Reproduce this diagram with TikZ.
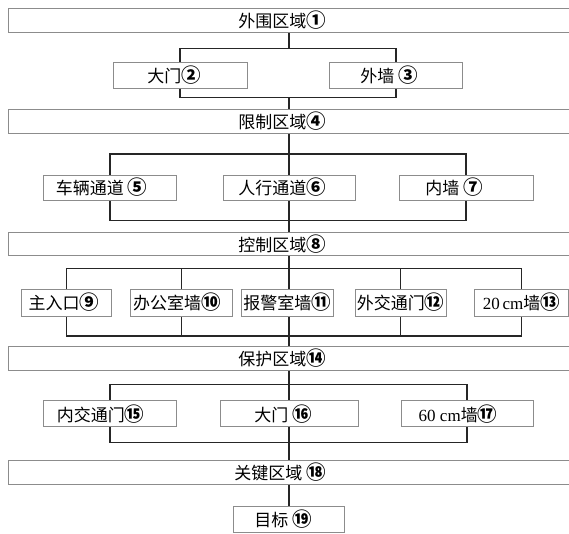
\documentclass[tikz,border=0pt]{standalone}
\usepackage{fontspec}
\setmainfont{Liberation Serif}
\newfontfamily\cjk{Noto Sans CJK SC}
\newcommand{\cnum}[1]{{\fontsize{19.5}{17}\selectfont\bfseries #1}}
\usetikzlibrary{backgrounds}
\begin{document}
\begin{tikzpicture}[x=1pt,y=-1pt,
 box/.style={draw=black!45, line width=0.9pt, fill=white, inner sep=0pt,
   font=\cjk\fontsize{17}{17}\selectfont, text=black},
 wide/.style={box, minimum width=567pt, minimum height=24pt},
 item/.style={box, minimum height=26pt},
 link/.style={draw=black!85, line width=1.2pt}]
\useasboundingbox (0,0) rectangle (569,534);
\clip (0,0) rectangle (569,534);
% wide zone boxes
\node[wide] (n1) at (291.5,20) {外围区域\cnum{①}\hspace*{19pt}};
\node[wide] (n4) at (291.5,121) {限制区域\cnum{④}\hspace*{19pt}};
\node[wide, minimum height=23pt] (n8) at (291.5,244) {控制区域\cnum{⑧}\hspace*{19pt}};
\node[wide] (n14) at (291.5,358) {保护区域\cnum{⑭}\hspace*{19pt}};
\node[wide] (n18) at (291.5,472) {关键区域 \cnum{⑱}\hspace*{23pt}};
% row 1
\node[item, minimum width=134pt] (n2) at (180,75) {大门\cnum{②}\hspace*{12pt}};
\node[item, minimum width=133pt] (n3) at (396,75) {外墙 \cnum{③}\hspace*{14pt}};
% row 2
\node[item, minimum width=133pt, minimum height=25pt] (n5) at (110,187.5) {车辆通道 \cnum{⑤}\hspace*{17pt}};
\node[item, minimum width=132pt, minimum height=25pt] (n6) at (289,187.5) {人行通道\cnum{⑥}\hspace*{14pt}};
\node[item, minimum width=134pt, minimum height=25pt] (n7) at (466,187.5) {内墙 \cnum{⑦}\hspace*{24pt}};
% row 3
\node[item, minimum width=90pt, minimum height=27pt] (n9) at (66.8,302.5) {主入口\cnum{⑨}\hspace*{6pt}};
\node[item, minimum width=102pt, minimum height=27pt] (n10) at (181.4,302.5) {办公室墙\cnum{⑩}\hspace*{9pt}};
\node[item, minimum width=92pt, minimum height=27pt] (n11) at (287.2,302.5) {报警室墙\cnum{⑪}};
\node[item, minimum width=91pt, minimum height=27pt] (n12) at (400.6,302.5) {外交通门\cnum{⑫}};
\node[item, minimum width=94pt, minimum height=27pt] (n13) at (521.4,302.5) {{\rmfamily 20\,cm}墙\cnum{⑬}};
% row 4
\node[item, minimum width=133pt] (n15) at (110,413.7) {内交通门\cnum{⑮}\hspace*{19pt}};
\node[item, minimum width=138pt] (n16) at (289,413.7) {大门 \cnum{⑯}\hspace*{12pt}};
\node[item, minimum width=132pt] (n17) at (467,413.7) {{\rmfamily 60 cm}墙\cnum{⑰}\hspace*{18pt}};
% target
\node[item, minimum width=111pt] (n19) at (288.5,519) {目标 \cnum{⑲}\hspace*{11pt}};
% bracket coordinates
\coordinate (t1) at (289,48.3);  \coordinate (u1) at (289,97.3);
\coordinate (t2) at (289,154);   \coordinate (u2) at (289,220.7);
\coordinate (t3) at (289,268.3); \coordinate (u3) at (289,336);
\coordinate (t4) at (289,384.3); \coordinate (u4) at (289,442.3);
\begin{scope}[on background layer]
 % row 1
 \draw[link] (t1 |- n1.south) -- (t1);
 \draw[link] (n2.north |- t1) rectangle (n3.south |- u1);
 \draw[link] (u1) -- (u1 |- n4.north);
 % row 2
 \draw[link] (t2 |- n4.south) -- (t2 |- n8.north);
 \draw[link] (n5.north |- t2) rectangle (n7.south |- u2);
 % row 3
 \draw[link] (t3 |- n8.south) -- (t3 |- n14.north);
 \draw[link] (n9.north |- t3) rectangle (n13.south |- u3);
 \draw[link] (n10.north |- t3) -- (n10.south |- u3);
 \draw[link] (n12.north |- t3) -- (n12.south |- u3);
 % row 4
 \draw[link] (t4 |- n14.south) -- (t4 |- n18.north);
 \draw[link] (n15.north |- t4) rectangle (n17.south |- u4);
 % target
 \draw[link] (t4 |- n18.south) -- (t4 |- n19.north);
\end{scope}
\end{tikzpicture}
\end{document}
